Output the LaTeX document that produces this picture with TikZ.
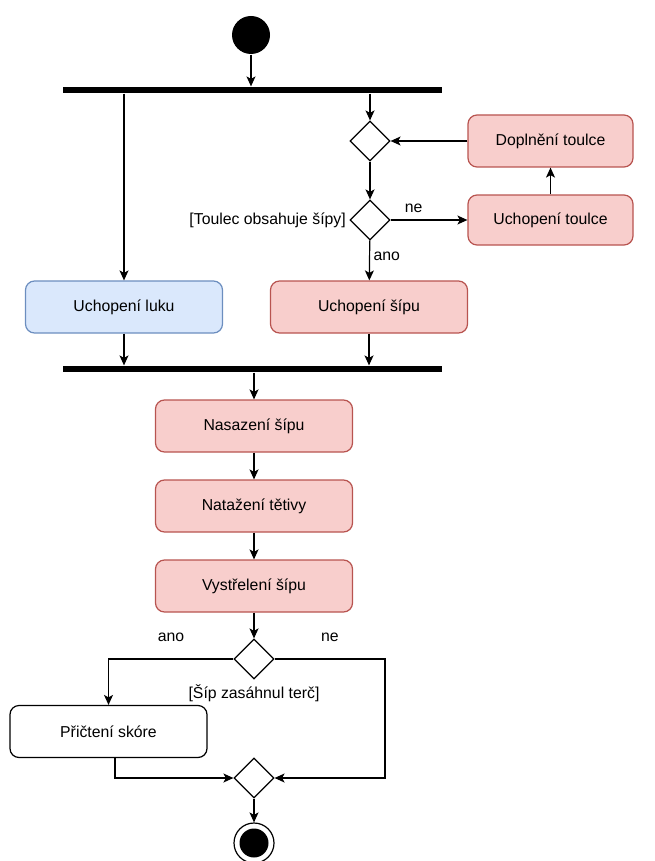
\documentclass[tikz,border=0pt]{standalone}
\usepackage{fontspec}
\setmainfont{Liberation Sans}
\usetikzlibrary{arrows.meta,shapes.geometric,positioning}
\definecolor{redfill}{HTML}{F8CECC}
\definecolor{redline}{HTML}{B85450}
\definecolor{bluefill}{HTML}{DAE8FC}
\definecolor{blueline}{HTML}{6C8EBF}

\begin{document}
\begin{tikzpicture}[x=1pt,y=-1pt,>={Stealth[length=10pt,width=9pt,inset=2.5pt]},
	font=\fontsize{15.8}{18}\selectfont,line width=1.2pt,
	action/.style={draw,rounded corners=9pt,minimum width=197pt,minimum height=52pt,inner sep=0pt},
	redact/.style={action,fill=redfill,draw=redline},
	blueact/.style={action,fill=bluefill,draw=blueline},
	bar/.style={fill=black,minimum width=379pt,minimum height=6pt,inner sep=0pt},
	decision/.style={draw,diamond,fill=white,minimum width=40pt,minimum height=40pt,inner sep=0pt}]
	\useasboundingbox (0,0) rectangle (655,861);
		\node[circle,fill=black,minimum size=38pt,inner sep=0pt] (start) at (251,35) {};
		\node[bar] (fork) at (252.5,90) {};
		\node[decision] (merge1) at (370,141) {};
		\node[decision] (toulec) at (370,220) {};
		\node[redact,minimum width=165pt] (doplneni) at (550.5,141) {Doplnění toulce};
		\node[redact,minimum width=165pt,minimum height=50pt] (uchtoulce) at (550.5,220) {Uchopení toulce};
		\node[blueact] (luku) at (124,307) {Uchopení luku};
		\node[redact] (sipu) at (369,307) {Uchopení šípu};
		\node[bar] (join) at (252.5,369) {};
		\node[redact] (nasazeni) at (254,426) {Nasazení šípu};
		\node[redact] (natazeni) at (254,506) {Natažení tětivy};
		\node[redact] (vystreleni) at (254,586) {Vystřelení šípu};
		\node[decision] (zasah) at (254,659) {};
		\node[below=1pt of zasah] (zasahlabel) {[Šíp zasáhnul terč]};
		\node[action,fill=white] (skore) at (108.5,731.5) {Přičtení skóre};
		\node[decision] (merge2) at (254,778) {};
		\node[circle,draw,minimum size=40pt,inner sep=0pt] (end) at (254,843) {};
		\node[circle,fill=black,minimum size=29pt,inner sep=0pt] (endin) at (end) {};
		\node[left,inner sep=3pt] (toulecl) at (toulec.west) {[Toulec obsahuje šípy]};
		\coordinate (nebend) at (385,778);
		\coordinate (skorebend) at (115,778);

		\draw[->] (start.south) -- (start.south |- fork.north);
		\draw[->] (fork.south -| luku) -- (luku.north);
		\draw[->] (fork.south -| merge1) -- (merge1.north);
		\draw[->] (doplneni.west) -- (merge1.east);
		\draw[->] (merge1) -- (toulec);
		\draw[->] (toulec.east) -- node[pos=0.3,yshift=12pt] {ne} (uchtoulce.west);
		\draw[->] (uchtoulce) -- (doplneni);
		\draw[->] (toulec) -- node[right,pos=0.4] {ano} (sipu);
		\draw[->] (luku) -- (luku |- join.north);
		\draw[->] (sipu) -- (sipu |- join.north);
		\draw[->] (join.south -| nasazeni) -- (nasazeni);
		\draw[->] (nasazeni) -- (natazeni);
		\draw[->] (natazeni) -- (vystreleni);
		\draw[->] (vystreleni) -- (zasah);
		\draw[->] (zasah.west) -| node[pos=0.25,yshift=22pt] {ano} (skore.north);
		\draw[->] (zasah.east) -| node[pos=0.25,yshift=22pt] {ne} (nebend) -- (merge2.east);
		\draw[->] (skore.south -| skorebend) -- (skorebend) -- (merge2.west);
		\draw[->] (merge2) -- (end);
	\end{tikzpicture}
\end{document}
